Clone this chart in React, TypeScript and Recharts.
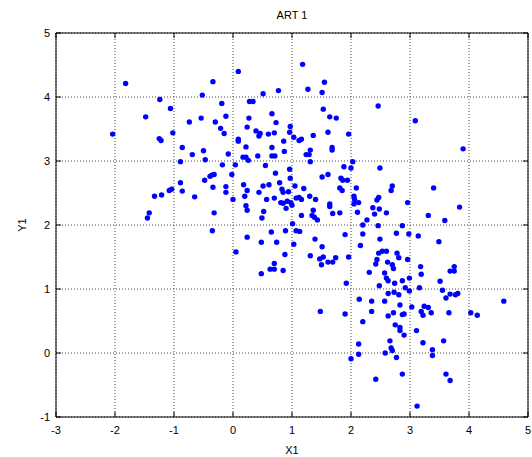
import React from 'react';
import { ScatterChart, Scatter, XAxis, YAxis, CartesianGrid, ReferenceArea } from 'recharts';

const X_TICKS = [-3, -2, -1, 0, 1, 2, 3, 4, 5];
const Y_TICKS = [-1, 0, 1, 2, 3, 4, 5];

// [X1, Y1] pairs, grouped roughly by region of the plot
const farLeft: [number, number][] = [
  [-1.82, 4.21], [-1.24, 3.96], [-1.06, 3.82], [-1.48, 3.69], [-2.04, 3.42], [-1.02, 3.44],
  [-1.25, 3.35], [-1.22, 3.32], [-1.33, 2.45], [-1.21, 2.47], [-1.08, 2.54], [-1.04, 2.56],
  [-1.42, 2.19], [-1.45, 2.11],
];

const upperMiddle: [number, number][] = [
  [0.09, 4.4], [-0.34, 4.24], [-0.52, 4.03], [0.51, 4.05], [0.77, 4.1], [-0.19, 3.9],
  [0.28, 3.93], [0.34, 3.93], [-0.74, 3.61], [-0.54, 3.67], [-0.3, 3.61], [-0.12, 3.7],
  [0.27, 3.67], [0.66, 3.74], [0.73, 3.6], [-0.21, 3.51], [-0.15, 3.43], [0.24, 3.53],
  [0.39, 3.47], [0.46, 3.43], [0.44, 3.39], [0.6, 3.42], [0.7, 3.44], [0.97, 3.54],
  [0.96, 3.45], [1.03, 3.37], [0.09, 3.34], [0.09, 3.31], [0.86, 3.31], [0.22, 3.22],
  [0.66, 3.21], [-0.86, 3.21], [-0.69, 3.1], [-0.5, 3.16], [-0.08, 3.11], [0.42, 3.08],
  [0.66, 3.08], [0.71, 3.08], [0.87, 3.15], [0.17, 3.06], [0.22, 3.06], [0.26, 3.01],
  [-0.47, 3.02], [-0.89, 2.99],
];

const upperRight: [number, number][] = [
  [1.18, 4.51], [1.55, 4.23], [1.27, 4.12], [1.51, 4.07], [2.46, 3.86], [1.53, 3.81],
  [1.64, 3.69], [1.75, 3.67], [3.09, 3.63], [1.36, 3.4], [1.61, 3.45], [1.96, 3.42],
  [1.12, 3.32], [1.16, 3.34], [1.68, 3.21], [1.68, 3.17], [1.31, 3.17], [1.24, 3.1],
  [1.29, 3.1], [1.31, 2.99], [2.03, 2.99], [3.9, 3.19],
];

const centreLeft: [number, number][] = [
  [-0.89, 2.66], [-0.86, 2.53], [-0.65, 2.44], [-0.48, 2.7], [-0.39, 2.76], [-0.36, 2.78],
  [-0.32, 2.79], [-0.34, 2.59], [-0.18, 2.94], [0.04, 2.94], [-0.02, 2.79], [-0.12, 2.6],
  [-0.12, 2.51], [0.0, 2.4], [0.18, 2.63], [0.24, 2.54], [0.2, 2.45], [0.22, 2.3],
  [0.24, 2.23], [0.44, 2.51], [0.51, 2.61], [0.61, 2.63], [0.55, 2.93], [0.72, 2.81],
  [0.79, 2.66], [0.83, 2.56], [0.85, 2.51], [0.96, 2.87], [0.97, 2.73], [0.94, 2.52],
  [1.05, 2.61], [0.57, 2.4], [0.7, 2.42], [0.81, 2.35], [0.85, 2.34], [0.92, 2.37],
  [0.9, 2.26], [0.98, 2.35], [1.0, 2.31], [1.07, 2.42], [0.52, 2.21], [0.49, 2.11],
  [-0.32, 2.19], [-0.35, 1.91], [1.01, 2.02], [1.07, 1.91], [0.24, 1.81], [0.48, 1.73],
  [0.65, 1.89], [0.74, 1.73], [0.89, 1.91], [1.03, 1.7], [0.05, 1.58], [0.88, 1.54],
  [0.7, 1.4], [0.63, 1.31], [0.7, 1.31], [0.85, 1.29], [0.48, 1.24],
];

const centreRight: [number, number][] = [
  [1.88, 2.91], [2.0, 2.89], [2.49, 2.89], [1.51, 2.75], [1.61, 2.79], [1.83, 2.73],
  [1.86, 2.7], [1.94, 2.7], [1.2, 2.57], [1.12, 2.43], [1.16, 2.4], [1.16, 2.15],
  [1.3, 2.45], [1.4, 2.4], [1.81, 2.58], [1.85, 2.54], [2.09, 2.58], [2.05, 2.45],
  [2.06, 2.4], [2.05, 2.33], [2.13, 2.35], [2.11, 2.2], [1.64, 2.33], [1.64, 2.29],
  [1.69, 2.18], [1.81, 2.19], [1.36, 2.23], [1.34, 2.15], [1.38, 2.12], [1.43, 2.08],
  [2.27, 2.08], [2.4, 2.17], [2.37, 2.27], [2.44, 2.39], [2.47, 2.43], [2.48, 2.25],
  [2.6, 2.19], [2.7, 2.61], [2.68, 2.54], [2.96, 2.35], [2.2, 2.0], [2.46, 1.99],
  [2.87, 1.99], [1.13, 1.9], [1.9, 1.85], [2.2, 1.86], [2.77, 1.87], [2.98, 1.86],
  [1.39, 1.78], [2.49, 1.78], [1.51, 1.66], [2.16, 1.68], [1.31, 1.52], [1.53, 1.5],
  [1.47, 1.47], [1.5, 1.38], [1.61, 1.42], [1.69, 1.42], [1.74, 1.49], [1.96, 1.5],
  [2.47, 1.56], [2.53, 1.59], [2.6, 1.59], [2.44, 1.46], [2.42, 1.39], [2.62, 1.42],
  [2.7, 1.38], [2.72, 1.32], [2.78, 1.56], [2.81, 1.49], [2.96, 1.46], [2.31, 1.26],
  [2.57, 1.25], [2.6, 1.17], [2.63, 1.13], [2.74, 1.09], [2.87, 1.13], [2.99, 1.17],
  [1.92, 1.09], [2.48, 1.05], [2.92, 1.02], [2.73, 0.95], [2.99, 0.97],
];

const eastCluster: [number, number][] = [
  [3.4, 2.58], [3.84, 2.28], [3.31, 2.15], [3.59, 2.07], [3.14, 1.83], [3.49, 1.74],
  [3.18, 1.35], [3.19, 1.23], [3.75, 1.35], [3.68, 1.28], [3.75, 1.28], [3.51, 1.12],
  [3.16, 1.02], [3.55, 0.98],
];

const lowerMiddle: [number, number][] = [
  [2.14, 0.84], [2.35, 0.81], [2.57, 0.81], [2.63, 0.93], [2.81, 0.91], [2.83, 0.75],
  [3.03, 0.72], [1.48, 0.65], [1.9, 0.61], [2.35, 0.65], [2.63, 0.58], [2.72, 0.63],
  [2.87, 0.6], [2.9, 0.61], [2.2, 0.49], [2.75, 0.44], [2.83, 0.4], [2.83, 0.35],
  [2.9, 0.28], [3.11, 0.35], [2.66, 0.19], [2.13, 0.14], [2.68, 0.08], [2.7, 0.04],
  [2.58, 0.0], [2.13, -0.02], [2.77, -0.07], [2.0, -0.09], [2.87, -0.33], [2.42, -0.41],
  [3.12, -0.83],
];

const lowerRight: [number, number][] = [
  [3.61, 0.86], [3.68, 0.92], [3.77, 0.91], [3.81, 0.93], [4.59, 0.81], [3.24, 0.73],
  [3.31, 0.71], [3.19, 0.65], [3.22, 0.59], [3.36, 0.63], [3.66, 0.63], [4.03, 0.63],
  [4.14, 0.59], [3.57, 0.19], [3.22, 0.16], [3.38, 0.05], [3.38, -0.04], [3.61, -0.33],
  [3.68, -0.43],
];

const points = [
  ...farLeft, ...upperMiddle, ...upperRight, ...centreLeft,
  ...centreRight, ...eastCluster, ...lowerMiddle, ...lowerRight,
].map(([x, y]) => ({ x, y }));

const W = 532;
const H = 457;
const PLOT_TOP = 33;
const PLOT_BOTTOM = 417;
const PLOT_LEFT = 56;
const PLOT_RIGHT = 528;
const FONT = '"Liberation Sans", Arial, sans-serif';

function XTick(props: any) {
  const { x, y, payload } = props;
  return (
    <g>
      <line x1={x} x2={x} y1={PLOT_BOTTOM} y2={PLOT_BOTTOM - 5} stroke="#000" />
      <line x1={x} x2={x} y1={PLOT_TOP} y2={PLOT_TOP + 5} stroke="#000" />
      <text x={x} y={y} dy="0.71em" textAnchor="middle" fontSize={11} fontFamily={FONT} fill="#000">
        {payload.value}
      </text>
    </g>
  );
}

function YTick(props: any) {
  const { x, y, payload } = props;
  return (
    <g>
      <line x1={PLOT_LEFT} x2={PLOT_LEFT + 5} y1={y} y2={y} stroke="#000" />
      <line x1={PLOT_RIGHT} x2={PLOT_RIGHT - 5} y1={y} y2={y} stroke="#000" />
      <text x={x} y={y} dy="0.355em" textAnchor="end" fontSize={11} fontFamily={FONT} fill="#000">
        {payload.value}
      </text>
    </g>
  );
}

export default function App() {
  return (
    <div style={{ position: 'absolute', left: 0, top: 0, width: W, height: H, background: '#fff' }}>
      <div
        style={{
          position: 'absolute',
          left: PLOT_LEFT,
          width: PLOT_RIGHT - PLOT_LEFT,
          top: 8,
          textAlign: 'center',
          fontFamily: FONT,
          fontSize: 11,
          lineHeight: '14px',
        }}
      >
        ART 1
      </div>
      <ScatterChart width={W} height={H} margin={{ top: PLOT_TOP, right: W - PLOT_RIGHT, bottom: 0, left: 0 }}>
        <CartesianGrid stroke="#444" strokeDasharray="1 2" />
        <XAxis
          type="number"
          dataKey="x"
          domain={[-3, 5]}
          ticks={X_TICKS}
          allowDataOverflow
          height={H - PLOT_BOTTOM}
          tickLine={false}
          axisLine={false}
          tickMargin={3}
          tick={<XTick />}
          label={{ value: 'X1', position: 'insideBottom', offset: 3, fontSize: 11, fontFamily: FONT, fill: '#000' }}
        />
        <YAxis
          type="number"
          dataKey="y"
          domain={[-1, 5]}
          ticks={Y_TICKS}
          allowDataOverflow
          width={PLOT_LEFT}
          tickLine={false}
          axisLine={false}
          tickMargin={0}
          tick={<YTick />}
          label={{ value: 'Y1', angle: -90, position: 'center', dx: -6, fontSize: 11, fontFamily: FONT, fill: '#000' }}
        />
        <ReferenceArea x1={-3} x2={5} y1={-1} y2={5} fill="none" stroke="#000" strokeWidth={1} />
        <Scatter
          data={points}
          isAnimationActive={false}
          shape={(p: any) => <circle cx={p.cx} cy={p.cy} r={2.7} fill="#0000ff" />}
        />
      </ScatterChart>
    </div>
  );
}
